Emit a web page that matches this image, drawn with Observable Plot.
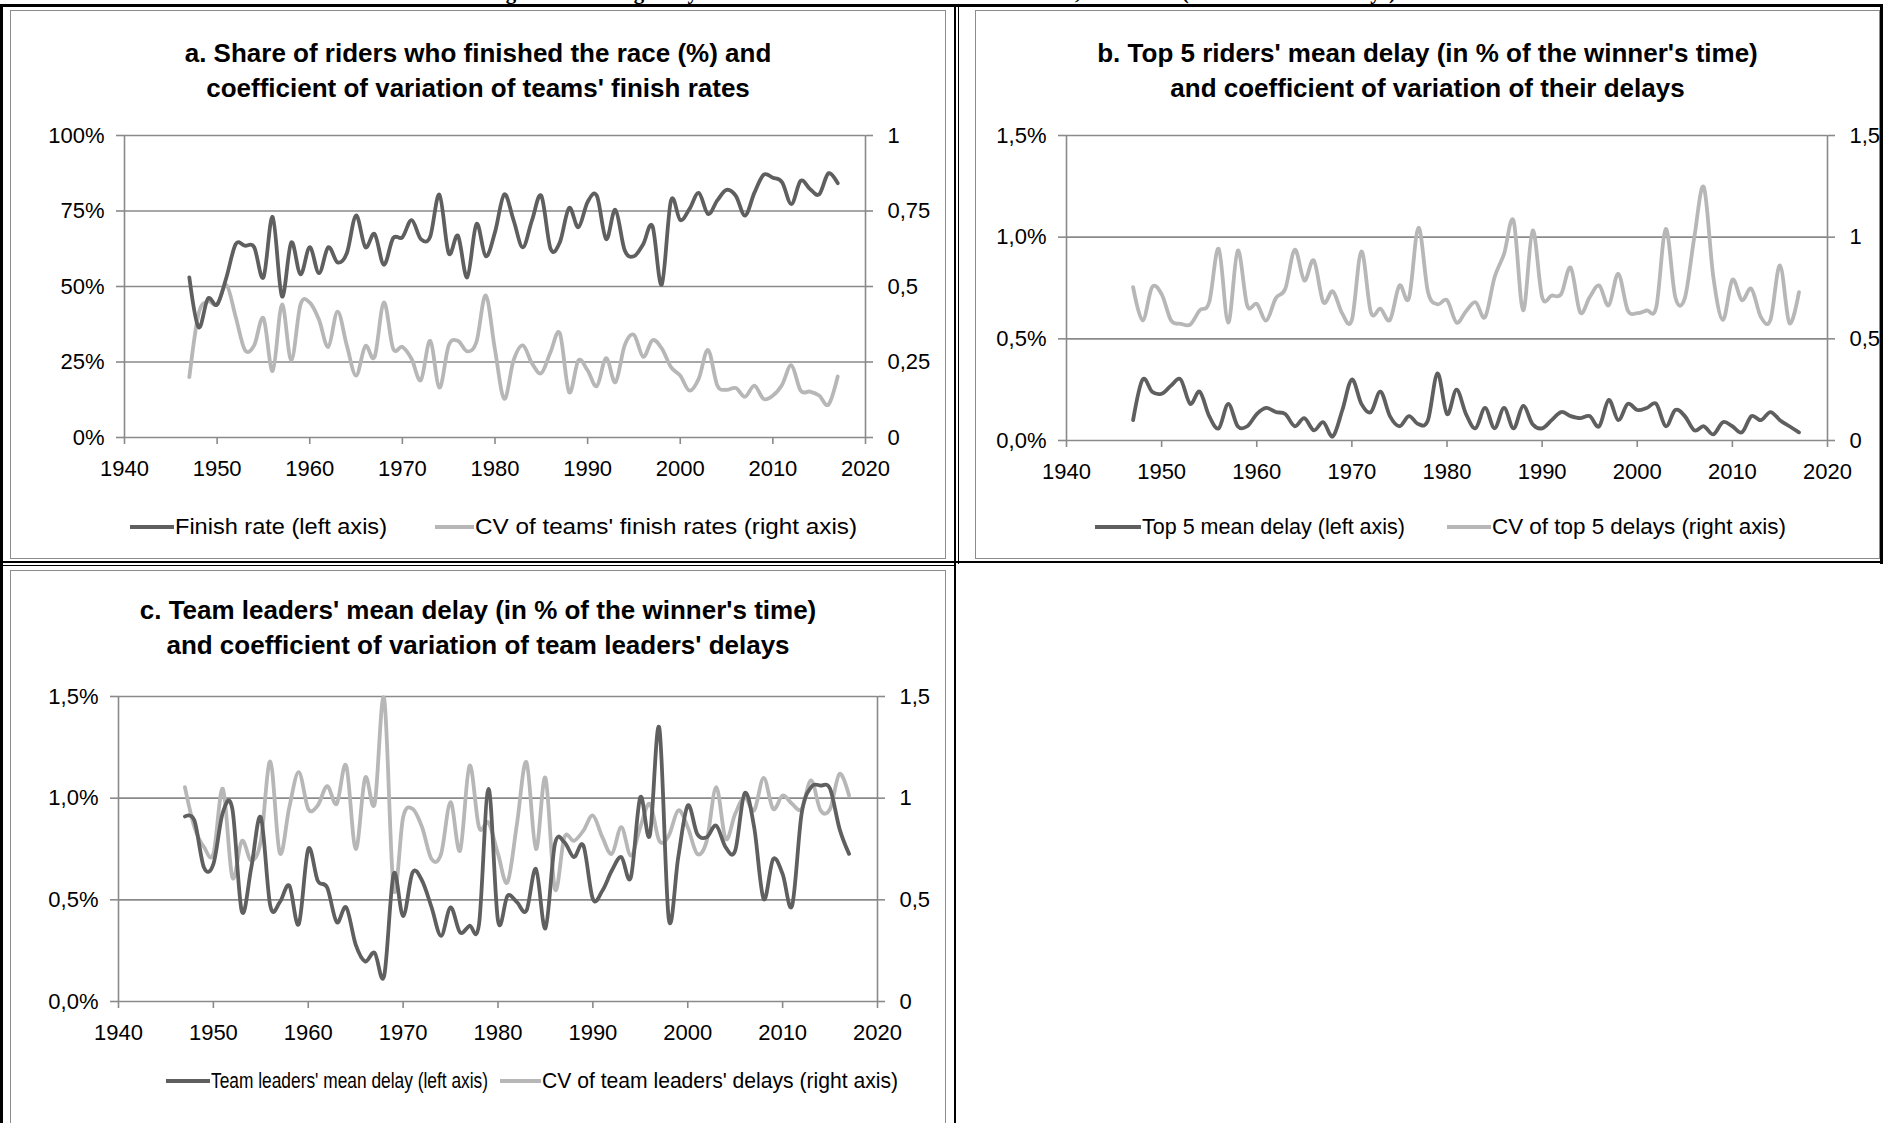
<!DOCTYPE html>
<html><head><meta charset="utf-8">
<script src="https://cdn.jsdelivr.net/npm/d3@7"></script>
<script src="https://cdn.jsdelivr.net/npm/@observablehq/plot@0.6"></script>
<style>
html,body{margin:0;padding:0;background:#fff}
body{width:1883px;height:1123px;position:relative;overflow:hidden;font-family:"Liberation Sans",sans-serif;color:#000}
.bl{position:absolute;background:#000}
.frame{position:absolute;border:1.5px solid #8c8c8c;box-sizing:border-box;background:#fff}
.title{position:absolute;text-align:center;font-weight:bold;font-size:26px;line-height:35px;white-space:nowrap}
.lt{position:absolute;font-size:22px;line-height:26px;white-space:nowrap;transform-origin:0 50%}
.sw{position:absolute;height:4px}
.plot{position:absolute}
.toptitle{position:absolute;left:0;width:1883px;top:-18px;text-align:center;font-family:"Liberation Serif",serif;font-weight:bold;font-size:21px;line-height:21px;white-space:nowrap}
</style>
</head><body>
<div class="toptitle">Figure 3. Heterogeneity of riders and teams in the Tour de France, 1947-2017 (finish rates and delays)</div>
<div id="root"></div>
<script>
// ---------- DATA ----------
const years = [1947,1948,1949,1950,1951,1952,1953,1954,1955,1956,1957,1958,1959,1960,1961,1962,1963,1964,1965,1966,1967,1968,1969,1970,1971,1972,1973,1974,1975,1976,1977,1978,1979,1980,1981,1982,1983,1984,1985,1986,1987,1988,1989,1990,1991,1992,1993,1994,1995,1996,1997,1998,1999,2000,2001,2002,2003,2004,2005,2006,2007,2008,2009,2010,2011,2012,2013,2014,2015,2016,2017];

// a. finish rate (%) and CV of teams' finish rates
const finishRate = [53,36.5,46,44,53,64,63.5,63,53,73,46.7,64.6,54,63,54.4,63,58,61,73.5,63,67.4,57.2,66,66.3,72,65.7,66.5,80.4,61,66.8,53,70.7,60,68,80.5,72,63,72,80,62.5,64.6,76,69.6,78,80,65.7,75.4,62,60,64,70,50.6,78.5,72,75.7,81,74,78.5,82,80,73.5,81,87,86,84.5,77.3,85,82.3,80.5,87.5,84.2];
const cvFinish = [0.20,0.41,0.45,0.44,0.505,0.40,0.29,0.305,0.395,0.22,0.44,0.255,0.44,0.447,0.39,0.30,0.417,0.305,0.205,0.303,0.267,0.447,0.295,0.30,0.26,0.19,0.32,0.165,0.305,0.32,0.285,0.317,0.47,0.29,0.128,0.255,0.305,0.245,0.213,0.283,0.345,0.15,0.255,0.222,0.17,0.263,0.183,0.305,0.34,0.267,0.322,0.295,0.233,0.205,0.155,0.195,0.29,0.172,0.158,0.164,0.135,0.172,0.128,0.139,0.175,0.239,0.155,0.152,0.139,0.109,0.202];

// b. top 5 riders' mean delay (% of winner's time) and CV of their delays
const top5Delay = [0.10,0.30,0.24,0.23,0.27,0.30,0.18,0.24,0.12,0.06,0.18,0.07,0.07,0.13,0.16,0.14,0.13,0.07,0.11,0.05,0.09,0.02,0.15,0.30,0.18,0.14,0.24,0.12,0.07,0.12,0.08,0.10,0.33,0.13,0.25,0.13,0.06,0.16,0.06,0.16,0.06,0.17,0.08,0.06,0.10,0.14,0.12,0.11,0.12,0.07,0.20,0.10,0.18,0.15,0.16,0.18,0.07,0.15,0.12,0.05,0.07,0.03,0.09,0.07,0.04,0.12,0.10,0.14,0.10,0.07,0.04];
const cvTop5 = [0.754,0.59,0.754,0.72,0.59,0.574,0.57,0.64,0.68,0.943,0.58,0.934,0.664,0.672,0.59,0.70,0.746,0.938,0.787,0.885,0.68,0.734,0.623,0.593,0.93,0.63,0.648,0.593,0.762,0.70,1.046,0.73,0.67,0.69,0.58,0.636,0.68,0.607,0.803,0.918,1.08,0.64,1.033,0.705,0.713,0.72,0.85,0.63,0.705,0.762,0.664,0.82,0.64,0.626,0.64,0.656,1.04,0.705,0.70,1.0,1.246,0.803,0.593,0.79,0.69,0.746,0.607,0.593,0.861,0.577,0.73];

// c. team leaders' mean delay (% of winner's time) and CV of team leaders' delays
const leaderDelay = [0.91,0.89,0.66,0.676,0.93,0.947,0.443,0.66,0.906,0.47,0.488,0.57,0.38,0.75,0.594,0.56,0.39,0.463,0.28,0.197,0.24,0.126,0.627,0.42,0.635,0.594,0.463,0.323,0.463,0.34,0.373,0.38,1.046,0.397,0.52,0.488,0.447,0.652,0.36,0.775,0.783,0.71,0.767,0.504,0.545,0.644,0.71,0.61,1.005,0.816,1.346,0.406,0.71,0.964,0.824,0.808,0.865,0.758,0.742,1.025,0.857,0.504,0.70,0.627,0.471,0.923,1.054,1.062,1.046,0.849,0.726];
const cvLeaders = [1.054,0.857,0.76,0.726,1.046,0.61,0.79,0.693,0.79,1.18,0.73,0.955,1.128,0.947,0.964,1.059,0.972,1.16,0.75,1.10,0.972,1.49,0.553,0.906,0.947,0.857,0.70,0.726,0.98,0.742,1.16,0.857,0.88,0.726,0.586,0.874,1.177,0.75,1.10,0.553,0.808,0.79,0.84,0.915,0.808,0.726,0.857,0.718,0.857,0.972,0.79,0.816,0.94,0.857,0.726,0.79,1.054,0.80,0.923,1.005,0.94,1.10,0.947,1.013,0.972,0.947,1.087,0.94,0.947,1.12,1.013];

const xTicks = [1940,1950,1960,1970,1980,1990,2000,2010,2020];
const ticksA = [0,0.25,0.5,0.75,1];
const leftLabelsA = ["0%","25%","50%","75%","100%"];
const rightLabelsA = ["0","0,25","0,5","0,75","1"];
const ticksBC = [0,0.5,1,1.5];
const leftLabelsBC = ["0,0%","0,5%","1,0%","1,5%"];
const rightLabelsBC = ["0","0,5","1","1,5"];

const titles = {
  a: ["a. Share of riders who finished the race (%) and", "coefficient of variation of teams' finish rates"],
  b: ["b. Top 5 riders' mean delay (in % of the winner's time)", "and coefficient of variation of their delays"],
  c: ["c. Team leaders' mean delay (in % of the winner's time)", "and coefficient of variation of team leaders' delays"]
};
const legends = {
  a: ["Finish rate  (left axis)", "CV of teams'  finish  rates (right axis)"],
  b: ["Top 5 mean delay (left axis)", "CV of top 5 delays (right axis)"],
  c: ["Team leaders' mean delay (left axis)", "CV of team leaders' delays (right axis)"]
};

const DARK = "#5f5f5f", LIGHT = "#b7b7b7", GRID = "#8a8a8a";

// ---------- LAYOUT HELPERS ----------
const root = document.getElementById("root");
function el(cls, css, html){const d=document.createElement("div");d.className=cls;Object.assign(d.style,css);if(html!=null)d.textContent=html;root.appendChild(d);return d;}

// table borders
el("bl",{left:"0px",top:"4px",width:"1883px",height:"3px"});
el("bl",{left:"0px",top:"4px",width:"3px",height:"1119px"});
el("bl",{left:"1880px",top:"4px",width:"3px",height:"560px"});
el("bl",{left:"954px",top:"4px",width:"2px",height:"1119px"});
el("bl",{left:"958px",top:"4px",width:"1px",height:"560px"});
el("bl",{left:"0px",top:"561px",width:"1883px",height:"2px"});
el("bl",{left:"0px",top:"565px",width:"956px",height:"1px"});

// legend text fitted to a target width
function legendText(txt, x0, x1, yc){
  const d = el("lt",{left:x0+"px",top:(yc-13)+"px"}, txt);
  const w = d.getBoundingClientRect().width;
  d.style.transform = `scaleX(${(x1-x0)/w})`;
}
function swatch(color, x0, x1, yc){
  el("sw",{left:x0+"px",width:(x1-x0)+"px",top:(yc-2)+"px",background:color});
}

function panel(cfg){
  el("frame",{left:cfg.frame[0]+"px",top:cfg.frame[1]+"px",width:cfg.frame[2]+"px",height:cfg.frame[3]+"px"});
  const t = el("title",{left:cfg.frame[0]+"px",width:cfg.frame[2]+"px",top:cfg.titleTop+"px"});
  t.innerHTML = cfg.title.join("<br>");
  const table = years.map((year,i)=>({year, left: cfg.left[i], right: cfg.right[i]}));
  const [px0,py0,px1,py1] = cfg.area; // plot-area in page coords
  const W = cfg.svg[2], H = cfg.svg[3];
  const chart = Plot.plot({
    width: W, height: H,
    marginLeft: px0 - cfg.svg[0], marginRight: cfg.svg[0] + W - px1,
    marginTop: py0 - cfg.svg[1], marginBottom: cfg.svg[1] + H - py1,
    style:{fontFamily:"'Liberation Sans',sans-serif", fontSize:"22px", color:"#000", background:"transparent", overflow:"visible"},
    x:{domain:[1940,2020]},
    y:{domain:cfg.ydomain},
    marks:[
      Plot.ruleY(cfg.ticks,{stroke:GRID,strokeWidth:1.6}),
      Plot.ruleX([1940,2020],{stroke:GRID,strokeWidth:1.6}),
      Plot.axisY(cfg.ticks,{anchor:"left",tickSize:8,tickPadding:12,stroke:GRID,strokeWidth:1.6,fill:"#000",tickFormat:(d)=>cfg.leftLabels[cfg.ticks.indexOf(d)],label:null}),
      Plot.axisY(cfg.ticks,{anchor:"right",tickSize:7,tickPadding:15,stroke:GRID,strokeWidth:1.6,fill:"#000",tickFormat:(d)=>cfg.rightLabels[cfg.ticks.indexOf(d)],label:null}),
      Plot.axisX(xTicks,{anchor:"bottom",tickSize:7,tickPadding:16,stroke:GRID,strokeWidth:1.6,fill:"#000",tickFormat:d=>String(d),label:null}),
      Plot.line(table,{x:"year",y:"right",stroke:LIGHT,strokeWidth:3.8,curve:"cardinal",tension:0}),
      Plot.line(table,{x:"year",y:"left",stroke:DARK,strokeWidth:3.8,curve:"cardinal",tension:0})
    ]
  });
  chart.classList.add("plot");
  Object.assign(chart.style,{left:cfg.svg[0]+"px",top:cfg.svg[1]+"px"});
  root.appendChild(chart);
  const L = cfg.legend; // [sw1x0, sw1x1, t1x1, sw2x0, sw2x1, t2x1, yc]
  swatch(DARK, L[0], L[1], L[6]);
  legendText(cfg.legendText[0], L[1]+1, L[2], L[6]);
  swatch(LIGHT, L[3], L[4], L[6]);
  legendText(cfg.legendText[1], L[4]+1, L[5], L[6]);
}

panel({
  frame:[10,10,936,549], titleTop:36, title:titles.a,
  area:[124,135,865,437], svg:[10,110,936,400], ydomain:[0,1],
  ticks:ticksA, leftLabels:leftLabelsA, rightLabels:rightLabelsA,
  left: finishRate.map(v=>v/100), right: cvFinish,
  legend:[130,174,387,435,474,857,527], legendText:legends.a
});
panel({
  frame:[975,10,905,549], titleTop:36, title:titles.b,
  area:[1066,135,1827,440], svg:[975,110,905,400], ydomain:[0,1.5],
  ticks:ticksBC, leftLabels:leftLabelsBC, rightLabels:rightLabelsBC,
  left: top5Delay, right: cvTop5,
  legend:[1095,1141,1405,1447,1491,1786,527], legendText:legends.b
});
panel({
  frame:[10,570,936,560], titleTop:593, title:titles.c,
  area:[118,696,877,1001], svg:[10,670,936,400], ydomain:[0,1.5],
  ticks:ticksBC, leftLabels:leftLabelsBC, rightLabels:rightLabelsBC,
  left: leaderDelay, right: cvLeaders,
  legend:[166,210,488,500,541,898,1081], legendText:legends.c
});
</script>
</body></html>
